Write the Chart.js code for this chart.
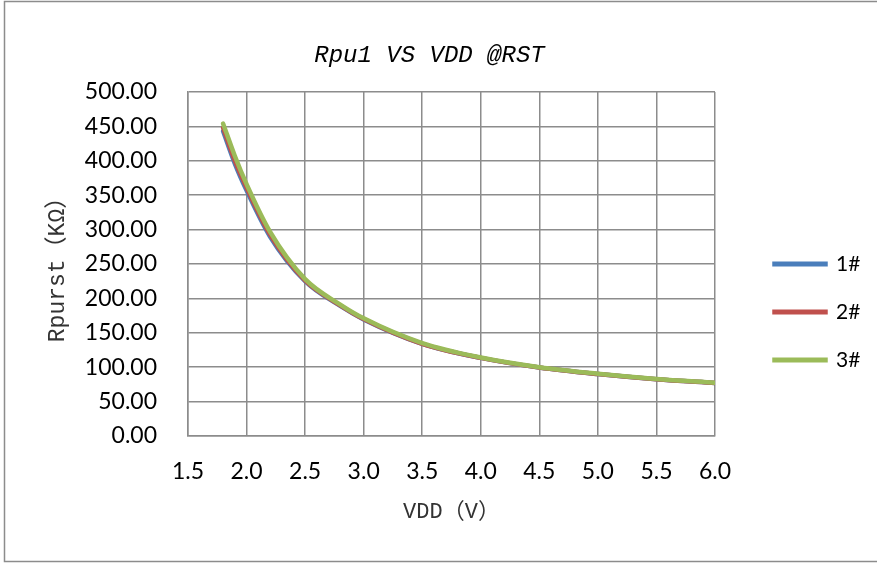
<!DOCTYPE html>
<html>
<head>
<meta charset="utf-8">
<script src="https://cdn.jsdelivr.net/npm/chart.js@4/dist/chart.umd.min.js"></script>
<style>
  html, body { margin: 0; padding: 0; background: #fff; }
  canvas { display: block; }
</style>
</head>
<body>
<canvas id="chart" width="877" height="563"></canvas>
<script>
// data
const vdd = [1.8, 1.9, 2.0, 2.2, 2.5, 2.8, 3.0, 3.5, 4.0, 4.5, 5.0, 5.5, 6.0];
const rpu1 = [443, 396, 357, 290, 225, 189, 169.5, 134, 113.5, 99.5, 90, 82.5, 77];
const rpu2 = [448, 400, 361, 293, 226, 190, 170, 134, 113.5, 99.5, 90, 82.5, 77];
const rpu3 = [454, 407, 366, 297, 228, 191, 171, 135, 114, 100, 90.5, 83, 77.5];

const seriesNames = ['1#', '2#', '3#'];
const xTicks = [1.5, 2.0, 2.5, 3.0, 3.5, 4.0, 4.5, 5.0, 5.5, 6.0];
const yTicks = [0, 50, 100, 150, 200, 250, 300, 350, 400, 450, 500];

// colors
const blue = '#4a7ebb';
const red = '#c0504d';
const green = '#9bbb59';
const gridCol = '#8c8c8c';

const tickFont = { family: 'Lato, "Open Sans", sans-serif', size: 23 };
const monoFont = '"Liberation Mono", "Noto Sans CJK SC", monospace';

function toPoints(ys) {
    return vdd.map((x, i) => ({ x: x, y: ys[i] }));
}

function lineSet(label, ys, color, order) {
    return {
        label: label,
        data: toPoints(ys),
        borderColor: color,
        backgroundColor: color,
        borderWidth: 4.5,
        borderCapStyle: 'round',
        pointRadius: 0,
        cubicInterpolationMode: 'monotone',
        order: order
    };
}

// outer frame like the Excel chart border
const framePlugin = {
    id: 'frame',
    beforeDraw(chart) {
        const ctx = chart.ctx;
        ctx.save();
        ctx.fillStyle = '#fff';
        ctx.fillRect(0, 0, chart.width, chart.height);
        ctx.strokeStyle = '#8c8c8c';
        ctx.lineWidth = 1.5;
        ctx.strokeRect(4.5, 1.5, chart.width + 5, 560);
        ctx.restore();
    }
};

// keep the legend to a fixed width and park it where the reference has it,
// and nudge the title a bit left (Excel centres it over a narrower box)
const placePlugin = {
    id: 'place',
    beforeLayout(chart) {
        const lg = chart.legend;
        if (lg && !lg._fixed) {
            const fit = lg.fit;
            lg.fit = function () { fit.call(this); this.width = 162; };
            lg._fixed = true;
        }
    },
    afterLayout(chart) {
        const lg = chart.legend;
        if (lg) {
            const w = lg.right - lg.left;
            lg.left = 747.5;
            lg.right = lg.left + w;
            lg.top = 226.5;
        }
        const tb = chart.titleBlock;
        if (tb) {
            tb.left -= 19;
            tb.right -= 19;
        }
    }
};

new Chart(document.getElementById('chart').getContext('2d'), {
    type: 'line',
    data: {
        datasets: [
            lineSet(seriesNames[0], rpu1, blue, 3),
            lineSet(seriesNames[1], rpu2, red, 2),
            lineSet(seriesNames[2], rpu3, green, 1)
        ]
    },
    options: {
        responsive: false,
        animation: false,
        layout: { padding: { left: 20, right: 0, top: 0, bottom: 27 } },
        plugins: {
            title: {
                display: true,
                text: 'Rpu1 VS VDD @RST',
                color: '#000',
                font: { family: monoFont, size: 24, style: 'italic', weight: 'normal' },
                padding: { top: 41.3, bottom: 21.9 }
            },
            legend: {
                position: 'right',
                align: 'start',
                labels: {
                    color: '#000',
                    font: { family: 'Lato, "Open Sans", sans-serif', size: 21 },
                    boxWidth: 51,
                    boxHeight: 0.5,
                    padding: 27,
                    sort: (a, b) => a.datasetIndex - b.datasetIndex
                }
            },
            tooltip: { enabled: false }
        },
        scales: {
            x: {
                type: 'linear',
                min: 1.5,
                max: 6.0,
                afterBuildTicks(scale) { scale.ticks = xTicks.map(v => ({ value: v })); },
                afterFit(scale) { scale.height = 100; },
                ticks: {
                    color: '#000',
                    font: tickFont,
                    padding: 22,
                    callback: v => v.toFixed(1)
                },
                grid: { color: gridCol, lineWidth: 1.5, drawTicks: false },
                border: { color: gridCol, width: 1.5 },
                title: {
                    display: true,
                    text: 'VDD（V）',
                    color: '#333',
                    font: { family: monoFont, size: 22 },
                    padding: { top: 0, bottom: 10.8 }
                }
            },
            y: {
                min: 0,
                max: 500,
                afterBuildTicks(scale) { scale.ticks = yTicks.map(v => ({ value: v })); },
                afterFit(scale) { scale.width = 168; },
                ticks: {
                    color: '#000',
                    font: tickFont,
                    padding: 31,
                    callback: v => v.toFixed(2)
                },
                grid: { color: gridCol, lineWidth: 1.5, drawTicks: false },
                border: { color: gridCol, width: 1.5 },
                title: {
                    display: true,
                    text: 'Rpurst（KΩ）',
                    color: '#333',
                    font: { family: monoFont, size: 23 },
                    padding: { top: 24.2, bottom: 0 }
                }
            }
        }
    },
    plugins: [framePlugin, placePlugin]
});
</script>
</body>
</html>
